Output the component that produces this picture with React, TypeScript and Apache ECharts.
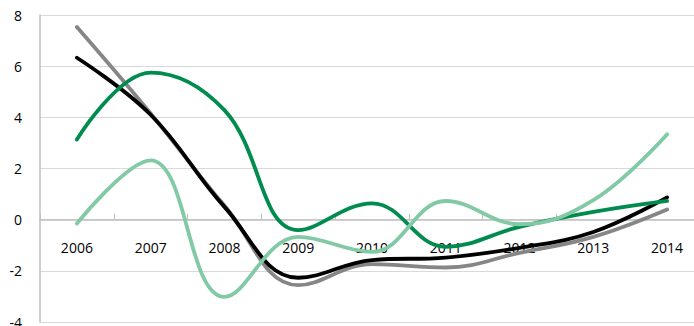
import React, { useEffect, useRef } from "react";
import * as echarts from "echarts";

const years = ["2006", "2007", "2008", "2009", "2010", "2011", "2012", "2013", "2014"];
const graySeries = [7.53, 4.15, 0.55, -2.56, -1.74, -1.87, -1.3, -0.67, 0.4];
const blackSeries = [6.33, 4.1, 0.5, -2.27, -1.58, -1.48, -1.1, -0.48, 0.87];
const darkGreenSeries = [3.13, 5.75, 4.28, -0.41, 0.64, -1.06, -0.28, 0.3, 0.73];
const lightGreenSeries = [-0.15, 2.32, -3.02, -0.67, -1.26, 0.73, -0.18, 0.76, 3.34];
const yTicks = { min: -4, max: 8, interval: 2 };

export default function App() {
  const ref = useRef<HTMLDivElement>(null);
  useEffect(() => {
    if (!ref.current) return;
    const chart = echarts.init(ref.current, undefined, { renderer: "svg" });
    const gridHeight = 307;
    const zeroOffset = -(gridHeight * (0 - yTicks.min)) / (yTicks.max - yTicks.min);
    const mk = (name: string, data: number[], color: string) => ({
      name,
      type: "line",
      data,
      smooth: 0.4,
      symbol: "none",
      lineStyle: { color, width: 3.8, cap: "round" },
    });
    chart.setOption({
      animation: false,
      grid: {
        left: 40,
        top: 15,
        width: 664,
        height: gridHeight,
        containLabel: false,
        outerBoundsMode: "none",
      },
      xAxis: {
        type: "category",
        data: years,
        boundaryGap: true,
        position: "bottom",
        offset: zeroOffset,
        axisLine: { onZero: false, lineStyle: { color: "#bfbfbf", width: 1.5 } },
        axisTick: { show: true, inside: true, length: 6, lineStyle: { color: "#bfbfbf" } },
        axisLabel: {
          margin: 21,
          color: "#000",
          fontSize: 14,
          fontFamily: "Open Sans",
        },
        splitLine: { show: false },
      },
      yAxis: {
        type: "value",
        min: yTicks.min,
        max: yTicks.max,
        interval: yTicks.interval,
        axisLine: { show: true, lineStyle: { color: "#bfbfbf", width: 1.5 } },
        axisTick: { show: false },
        axisLabel: {
          margin: 18,
          color: "#000",
          fontSize: 14,
          fontFamily: "Open Sans",
        },
        splitLine: { show: true, lineStyle: { color: "#d9d9d9", width: 1 } },
      },
      series: [
        mk("gray", graySeries, "#868686"),
        mk("black", blackSeries, "#000000"),
        mk("darkgreen", darkGreenSeries, "#008c4e"),
        mk("lightgreen", lightGreenSeries, "#82c9a5"),
      ],
    });
    return () => chart.dispose();
  }, []);
  return (
    <div
      ref={ref}
      style={{ position: "absolute", left: 0, top: 0, width: 694, height: 326, background: "#fff" }}
    />
  );
}
